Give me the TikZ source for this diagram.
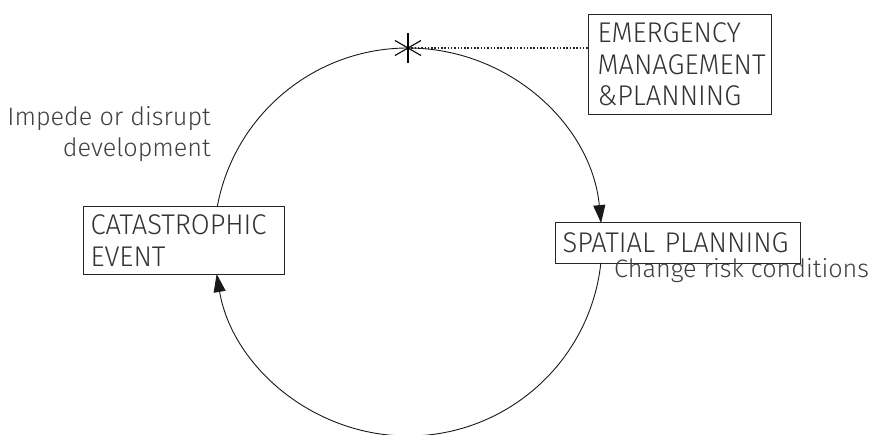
\documentclass[tikz,border=0pt]{standalone}
\usepackage{fontspec}
\setmainfont{Fira Sans Light}
\newfontfamily\boxfont{Fira Sans Light}[FakeStretch=0.96]
\usetikzlibrary{arrows.meta,calc}
\begin{document}
\begin{tikzpicture}[x=1pt,y=1pt,
  box/.style={draw=black!85, line width=1.1pt, fill=white, rectangle, anchor=north west,
    align=left, inner ysep=0pt, font=\boxfont\fontsize{28.5}{31.5}\selectfont, text=black!80},
  lbl/.style={font=\fontsize{25.2}{31}\selectfont, text=black!75, inner sep=0pt},
  ring/.style={line width=0.9pt, draw=black!90},
  tip/.style={-{Triangle[length=18pt,width=12pt]}}]
\clip (0,0) rectangle (875,-434);
\useasboundingbox (0,0) rectangle (875,-434);
\fill[white] (0,0) rectangle (875,-434);
\coordinate (c) at (408,-242);
\coordinate (star) at (408,-48);
% boxes
\node[box, inner xsep=9pt, text width=165pt, minimum height=100pt] (em) at (588,-14)
  {\mbox{EMERGENCY}\\\mbox{MANAGEMENT}\\\mbox{\&PLANNING}};
\node[box, inner xsep=7pt, text width=187pt, minimum height=68pt] (cat) at (83,-206)
  {\mbox{CATASTROPHIC}\\\mbox{EVENT}};
\node[box, inner xsep=7pt, text width=231pt, minimum height=41pt] (sp) at (555,-222)
  {\mbox{SPATIAL PLANNING}};
% labels
\node[lbl, anchor=base east, align=right] (imp) at (211,-156) {Impede or disrupt\\development};
\node[lbl, anchor=base west] (chg) at (614,-277) {Change risk conditions};
% circle points
\coordinate (spIn) at ($(c)+(5.6:194)$);
\coordinate (spOut) at ($(c)+(-6.2:194)$);
\coordinate (catIn) at ($(c)+(-170.5:194)$);
\coordinate (catOut) at ($(c)+(169.3:194)$);
% arcs
\draw[ring,tip] (star) arc[start angle=90, end angle=5.6, radius=194];
\draw[ring,tip] (spOut) arc[start angle=-6.2, end angle=-170.5, radius=194];
\draw[ring] (catOut) arc[start angle=169.3, end angle=90, radius=194];
% dotted leader
\draw[line width=1.1pt, dash pattern=on 1.5pt off 1.8pt, black!85] (star) -- (star -| em.west);
% asterisk
\foreach \a in {90,30,150}
  \draw[line width=1.1pt] ($(star)+(\a:15)$) -- ($(star)+(\a+180:15)$);
\end{tikzpicture}
\end{document}
